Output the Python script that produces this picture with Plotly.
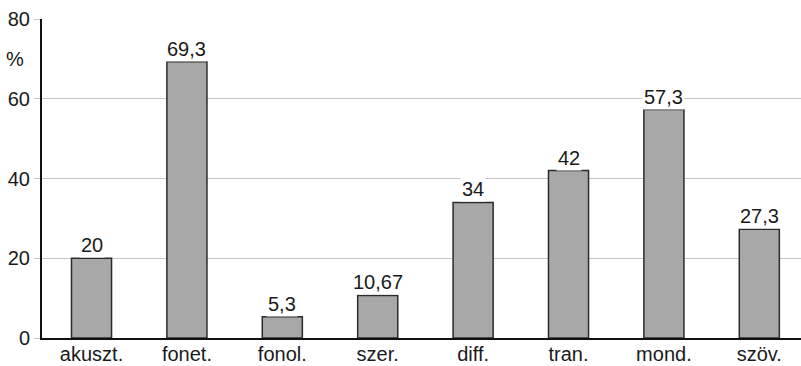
import plotly.graph_objects as go

categories = ["akuszt.", "fonet.", "fonol.", "szer.", "diff.", "tran.", "mond.", "szöv."]
values = [20, 69.3, 5.3, 10.67, 34, 42, 57.3, 27.3]
value_labels = ["20", "69,3", "5,3", "10,67", "34", "42", "57,3", "27,3"]
y_ticks = [0, 20, 40, 60, 80]

FONT = "Liberation Sans, Arial, sans-serif"
TEXT = "#1a1a1a"
idx = list(range(len(categories)))

fig = go.Figure()
fig.add_trace(go.Bar(
    x=idx,
    y=values,
    width=0.42,
    marker=dict(color="#a8a8a8", line=dict(color="#2b2b2b", width=1.5)),
    hoverinfo="skip",
))

# value labels above the bars, on a white patch that interrupts the grid
for i, (v, lab) in enumerate(zip(values, value_labels)):
    fig.add_annotation(
        x=i, y=v, text=lab, showarrow=False, yanchor="bottom", yshift=0,
        font=dict(family=FONT, size=20, color=TEXT),
        bgcolor="white", borderpad=1,
    )

# unit label under the top tick
fig.add_annotation(
    xref="paper", yref="paper", x=-0.0215, y=0.875, text="%", showarrow=False,
    xanchor="right", yanchor="middle", font=dict(family=FONT, size=20, color=TEXT),
)

fig.update_layout(
    width=801, height=366,
    margin=dict(l=42, r=0, t=19, b=28, autoexpand=False),
    paper_bgcolor="white", plot_bgcolor="white",
    showlegend=False,
    font=dict(family=FONT, size=20, color=TEXT),
    xaxis=dict(
        tickmode="array", tickvals=idx, ticktext=categories,
        range=[-0.519, 7.437], showgrid=False, zeroline=False,
        showline=True, linecolor="#111111", linewidth=2,
        ticks="", ticklabelstandoff=-3,
        tickfont=dict(family=FONT, size=20, color=TEXT),
    ),
    yaxis=dict(
        range=[0, 80], tickvals=y_ticks, showgrid=True,
        gridcolor="#c4c4c4", gridwidth=1, zeroline=False,
        showline=True, linecolor="#111111", linewidth=2,
        ticks="outside", ticklen=6, tickcolor="#c4c4c4", tickwidth=1,
        tickfont=dict(family=FONT, size=20, color=TEXT),
    ),
)

fig.write_html("out.html")
